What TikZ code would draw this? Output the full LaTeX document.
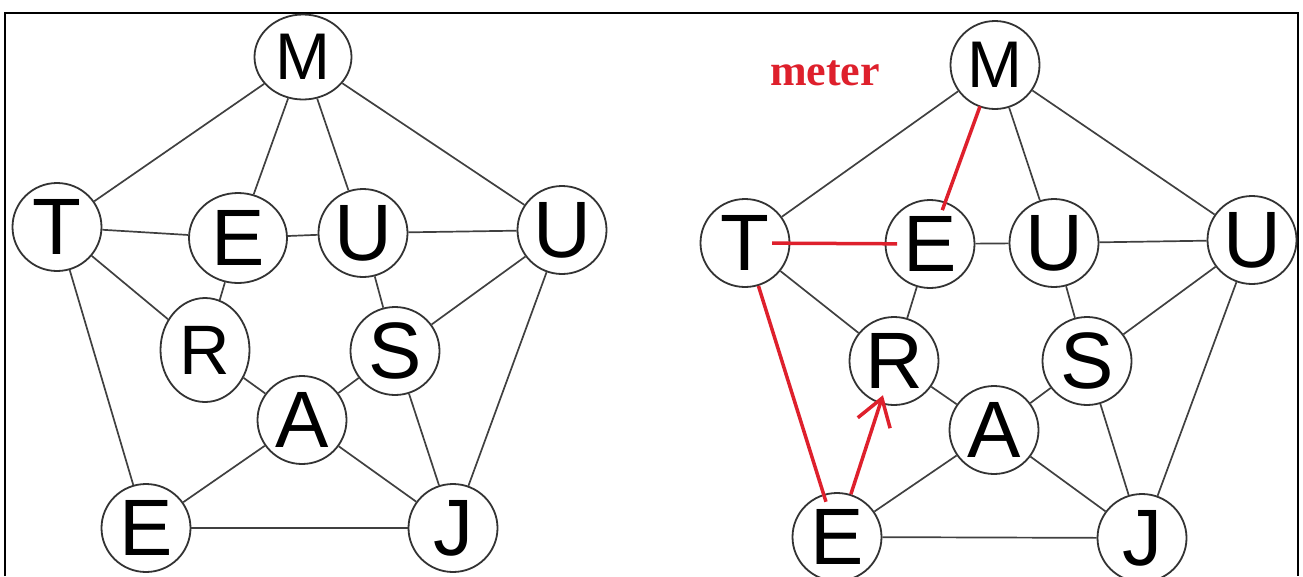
\documentclass[tikz,border=0pt]{standalone}
\usepackage{fontspec}
\setsansfont{Liberation Sans}
\newfontfamily\meterfont{Liberation Serif}
\usetikzlibrary{shapes.geometric,arrows.meta}
\definecolor{walkred}{RGB}{222,32,44}

\begin{document}
\begin{tikzpicture}[x=1pt, y=-1pt,
    vtx/.style = {ellipse, draw=black!80, line width=1.8pt, fill=white, inner sep=0pt,
                  minimum width=89pt, minimum height=88pt, font=\sffamily\fontsize{80}{80}\selectfont},
    smallvtx/.style = {vtx, font=\sffamily\fontsize{66}{66}\selectfont},
    edge/.style = {draw=black!75, line width=1.7pt},
    walk/.style = {draw=walkred, line width=3.5pt}]
    \useasboundingbox (0,0) rectangle (1303,576);
    \draw[line width=2pt] (5,576) -- (5,12.5) -- (1298,12.5) -- (1298,576);

    % left graph
    \node [smallvtx, minimum width=97pt, minimum height=85pt] (lM) at (303,57) {M};
    \node [vtx] (lT) at (57,227) {T};
    \node [vtx, minimum width=98pt, minimum height=90pt] (lE) at (238,238) {E};
    \node [vtx] (lU) at (363,233) {U};
    \node [vtx] (lUo) at (562,230) {U};
    \node [vtx, minimum height=104pt, font=\sffamily\fontsize{70}{70}\selectfont] (lR) at (205,350) {R};
    \node [vtx] (lS) at (395,351) {S};
    \node [vtx] (lA) at (302,420) {A};
    \node [vtx] (lEb) at (146,528) {E};
    \node [vtx] (lJ) at (453,528) {J};
    \foreach \a/\b in {M/T, M/E, M/U, M/Uo, T/E, E/U, U/Uo, T/R, T/Eb, E/R,
                       U/S, Uo/S, Uo/J, R/A, S/A, S/J, A/Eb, A/J, Eb/J}
        \draw[edge] (l\a) -- (l\b);

    % right graph
    \node [smallvtx] (rM) at (995,65) {M};
    \node [vtx] (rT) at (745,243) {T};
    \node [vtx] (rE) at (930,244) {E};
    \node [vtx] (rU) at (1054,243) {U};
    \node [vtx] (rUo) at (1252,240) {U};
    \node [vtx] (rR) at (894,361) {R};
    \node [vtx] (rS) at (1087,361) {S};
    \node [vtx] (rA) at (994,430) {A};
    \node [vtx] (rEb) at (837,537) {E};
    \node [vtx] (rJ) at (1142,538) {J};
    \foreach \a/\b in {M/T, M/U, M/Uo, E/U, U/Uo, T/R, E/R,
                       U/S, Uo/S, Uo/J, R/A, S/A, S/J, A/Eb, A/J, Eb/J}
        \draw[edge] (r\a) -- (r\b);

    % the walk
    \node [text=walkred, font=\meterfont\bfseries\fontsize{44}{44}\selectfont, anchor=base] (word) at (825,85) {meter};
    \draw[walk, shorten <=44pt, shorten >=36pt] (rM.center) -- (rE.center);
    \draw[walk, shorten <=27pt, shorten >=33pt] (rT.center) -- (rE.center);
    \draw[walk, shorten >=-8pt] (rT) -- (rEb);
    \draw[walk, -{Straight Barb[length=26pt, width=34pt]}, shorten >=-9pt] (rEb) -- (rR);
\end{tikzpicture}
\end{document}
